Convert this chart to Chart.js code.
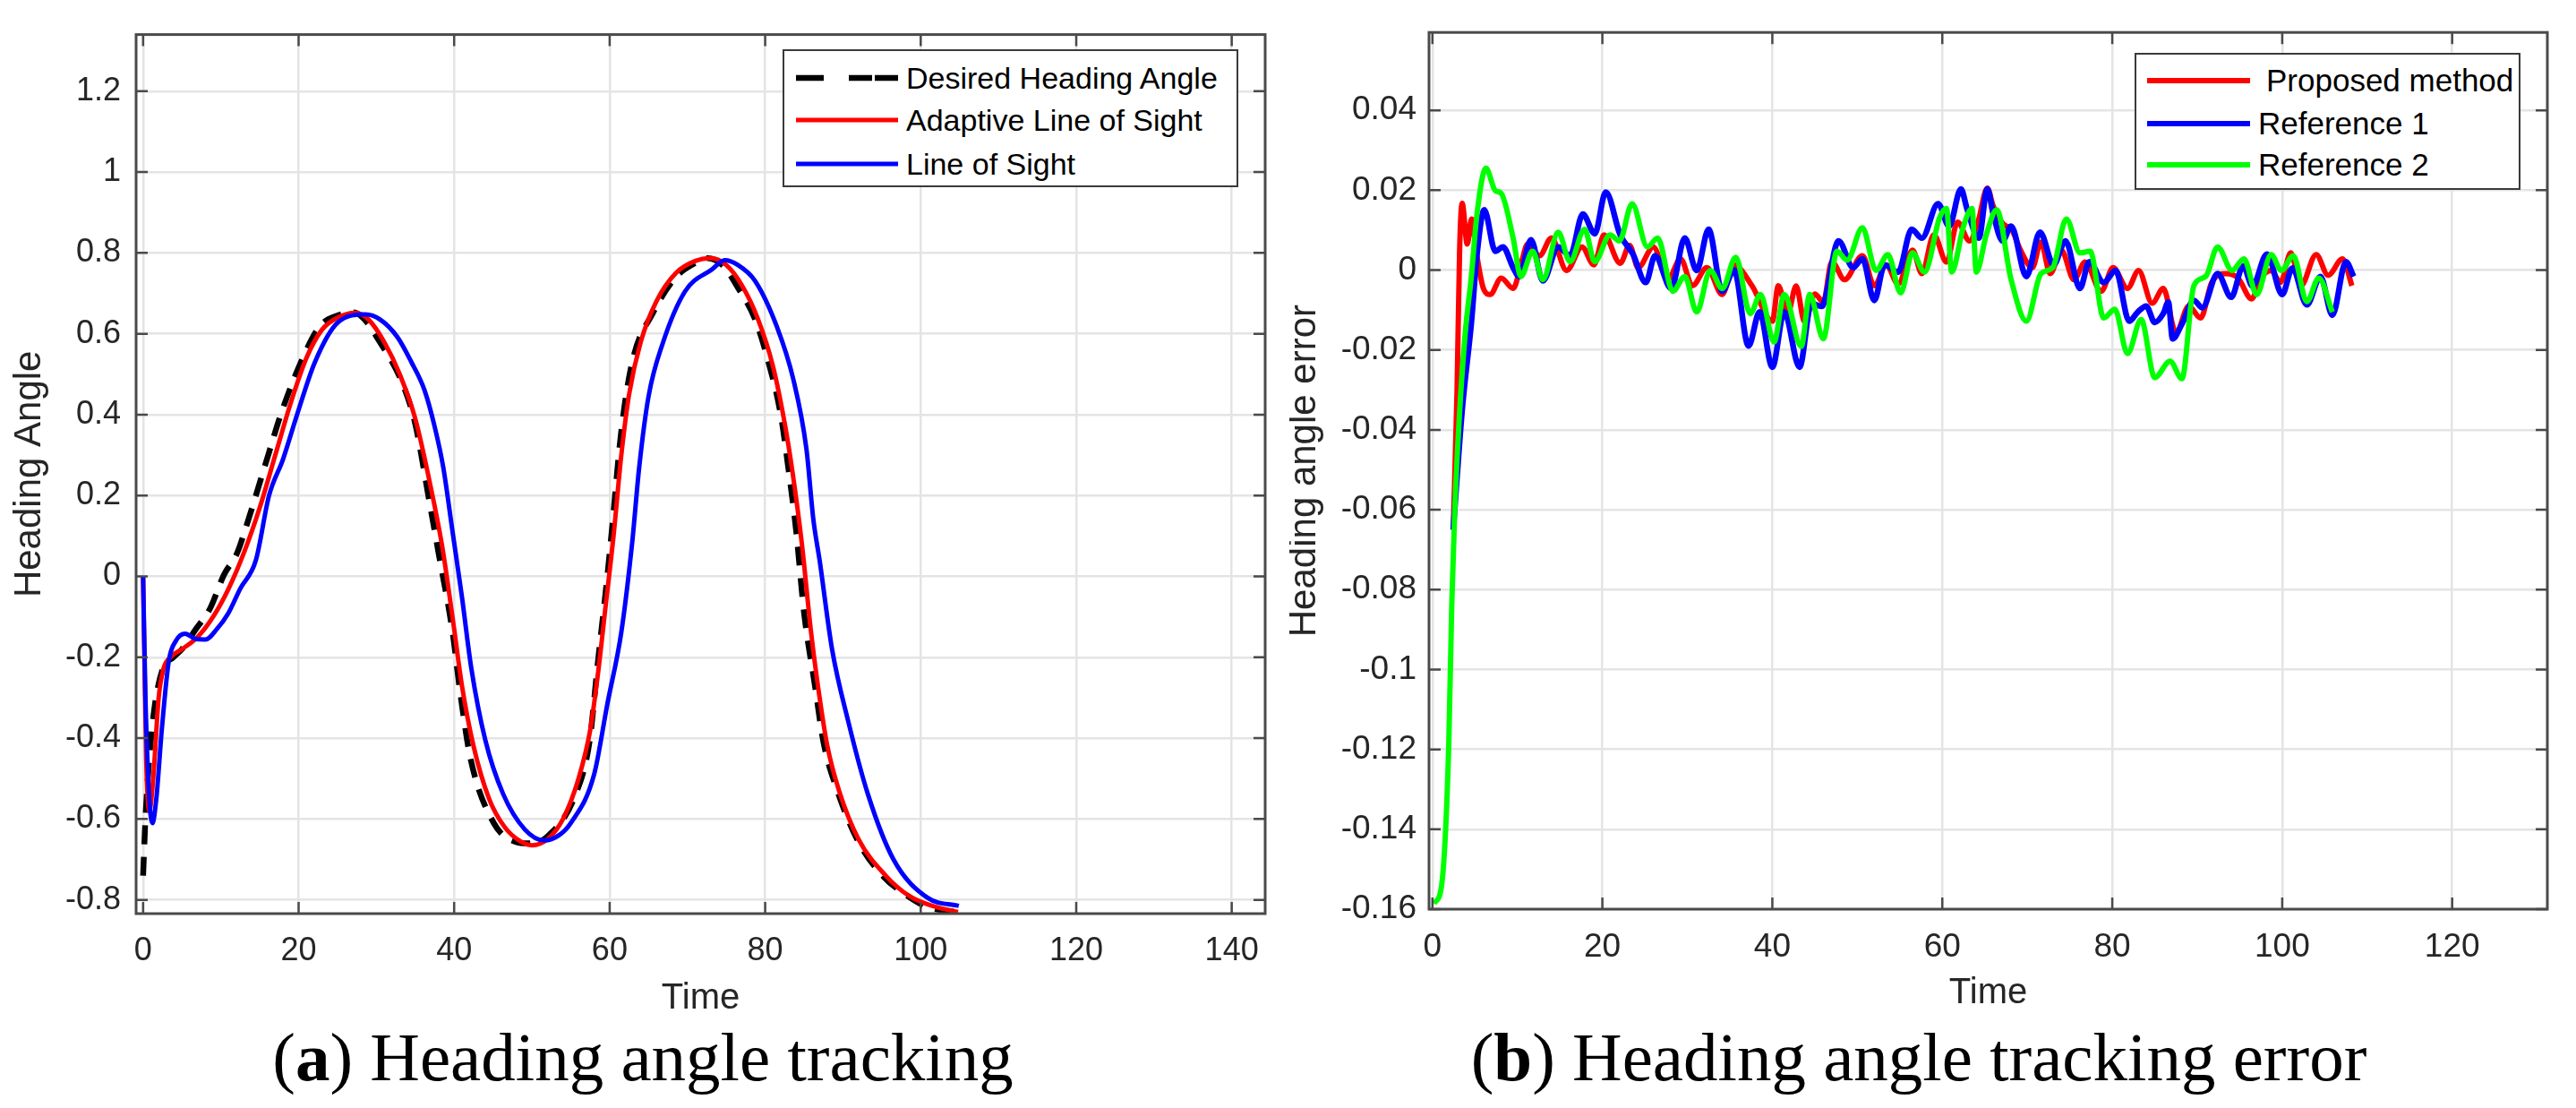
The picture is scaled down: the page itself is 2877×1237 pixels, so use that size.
<!DOCTYPE html>
<html>
<head>
<meta charset="utf-8">
<script src="https://cdn.jsdelivr.net/npm/chart.js@4.4.1/dist/chart.umd.min.js"></script>
<style>
  html, body { margin:0; padding:0; background:#fff; }
  body { width:2877px; height:1237px; position:relative; overflow:hidden; }
  canvas { position:absolute; top:0; }
  .legend { position:absolute; box-sizing:border-box; border:2px solid #3a3a3a; background:#fff; }
  .legend svg { position:absolute; left:0; top:0; }
  .legend span { position:absolute; font-family:"Liberation Sans", Arial, sans-serif; color:#000; line-height:1; white-space:nowrap; }
  .cap { position:absolute; top:1142px; width:1400px; text-align:center; font-family:"Liberation Serif", "Times New Roman", serif; font-size:77px; line-height:1; color:#000; white-space:nowrap; }
</style>
</head>
<body>
<canvas id="cA" width="1440" height="1150" style="left:0"></canvas>
<canvas id="cB" width="1437" height="1150" style="left:1440px"></canvas>

<div class="legend" style="left:874px; top:55px; width:509px; height:154px;">
  <svg width="509" height="154">
    <line x1="13" y1="30" x2="127" y2="30" stroke="#000" stroke-width="6.5" stroke-dasharray="31 28 26 3 26"/>
    <line x1="13" y1="77" x2="127" y2="77" stroke="#ff0000" stroke-width="5"/>
    <line x1="13" y1="126" x2="127" y2="126" stroke="#0000ff" stroke-width="5"/>
  </svg>
  <span style="left:136px; top:13px; font-size:34px;">Desired Heading Angle</span>
  <span style="left:136px; top:60px; font-size:34px;">Adaptive Line of Sight</span>
  <span style="left:136px; top:109px; font-size:34px;">Line of Sight</span>
</div>

<div class="legend" style="left:2384px; top:59px; width:431px; height:153px;">
  <svg width="431" height="153">
    <line x1="12" y1="29" x2="127" y2="29" stroke="#ff0000" stroke-width="6"/>
    <line x1="12" y1="77" x2="127" y2="77" stroke="#0000ff" stroke-width="6"/>
    <line x1="12" y1="123" x2="127" y2="123" stroke="#00ff00" stroke-width="6"/>
  </svg>
  <span style="left:145px; top:11px; font-size:35px;">Proposed method</span>
  <span style="left:136px; top:59px; font-size:35px;">Reference 1</span>
  <span style="left:136px; top:105px; font-size:35px;">Reference 2</span>
</div>

<div class="cap" style="left:18px;">(<b>a</b>) Heading angle tracking</div>
<div class="cap" style="left:1443px;">(<b>b</b>) Heading angle tracking error</div>

<script>
// ---------------- Chart (a) data ----------------
const leftXTicks = [0, 20, 40, 60, 80, 100, 120, 140];
const leftXTickLabels = ['0', '20', '40', '60', '80', '100', '120', '140'];
const leftYTicks = [-0.8, -0.6, -0.4, -0.2, 0, 0.2, 0.4, 0.6, 0.8, 1, 1.2];
const leftYTickLabels = ['-0.8', '-0.6', '-0.4', '-0.2', '0', '0.2', '0.4', '0.6', '0.8', '1', '1.2'];

const desiredT = [0, 0.3, 0.8, 1.5, 2.5, 3.9, 5, 6.8, 8.6, 10.4, 12.1, 13.3, 16.2, 17.7, 20.3, 22.7, 25, 27.1, 28.5, 30.3, 33.3, 35, 36.8, 38, 39.8, 40.8, 42.1, 45.1, 48, 49.5, 52, 55.6, 57.4, 58.5, 59.7, 60.3, 61.5, 62.9, 65.6, 68.5, 71, 72.6, 74.5, 76.5, 78.7, 80.4, 82, 83, 84, 85, 86.4, 87.5, 89.1, 91.9, 95.2, 98, 100.8, 104.5];
const desiredV = [-0.74, -0.6, -0.45, -0.32, -0.23, -0.2, -0.18, -0.13, -0.08, 0.004, 0.058, 0.126, 0.307, 0.40, 0.53, 0.618, 0.645, 0.653, 0.635, 0.584, 0.48, 0.377, 0.187, 0.058, -0.138, -0.29, -0.45, -0.61, -0.657, -0.66, -0.643, -0.54, -0.41, -0.21, 0.0, 0.117, 0.36, 0.53, 0.653, 0.74, 0.775, 0.787, 0.77, 0.714, 0.636, 0.532, 0.40, 0.265, 0.11, -0.09, -0.27, -0.41, -0.52, -0.653, -0.742, -0.786, -0.817, -0.83];

const adaptiveT = [0, 0.4, 0.8, 1.3, 2, 2.6, 3.5, 5, 7, 9, 11, 13, 15, 17, 19, 21, 23, 25, 27.3, 29, 31, 33, 35, 37, 38.5, 40, 41, 42.5, 44.5, 46.5, 48.5, 50, 52, 54, 56, 57.5, 58.5, 59.5, 60.5, 61.5, 62.5, 64, 66, 68.5, 71, 73, 75, 77, 79, 81, 82.5, 83.5, 84.7, 85.9, 87, 88, 89.5, 92, 95.5, 98.5, 101.5, 104.8];
const adaptiveV = [0, -0.45, -0.58, -0.5, -0.3, -0.23, -0.2, -0.18, -0.15, -0.1, -0.03, 0.06, 0.17, 0.30, 0.43, 0.54, 0.61, 0.64, 0.652, 0.635, 0.58, 0.50, 0.39, 0.22, 0.07, -0.13, -0.27, -0.42, -0.55, -0.62, -0.655, -0.665, -0.65, -0.6, -0.5, -0.38, -0.24, -0.07, 0.1, 0.3, 0.45, 0.58, 0.68, 0.75, 0.78, 0.787, 0.77, 0.72, 0.64, 0.52, 0.38, 0.26, 0.084, -0.138, -0.3, -0.42, -0.53, -0.65, -0.74, -0.79, -0.815, -0.83];

const losT = [0, 0.3, 0.8, 1.2, 1.7, 2.4, 3.3, 4.2, 5.4, 6.8, 8, 9.5, 10.9, 12.5, 14.5, 16.2, 18, 19.8, 22.1, 25, 28.6, 30.5, 32.7, 34.5, 36.2, 37.5, 38.6, 39.8, 41, 42.2, 44, 46.3, 49.1, 51.6, 53.5, 55, 58, 59.7, 61.5, 62.9, 63.8, 65, 66.8, 69.7, 73.2, 74.8, 76.5, 78.7, 81.5, 83.6, 85.3, 86.2, 87, 88.6, 90.7, 93.2, 96.5, 100.9, 104.9];
const losV = [0, -0.3, -0.55, -0.61, -0.55, -0.38, -0.21, -0.16, -0.142, -0.155, -0.156, -0.13, -0.093, -0.03, 0.04, 0.2, 0.29, 0.40, 0.53, 0.627, 0.648, 0.635, 0.592, 0.53, 0.46, 0.37, 0.27, 0.11, -0.05, -0.226, -0.404, -0.538, -0.626, -0.653, -0.64, -0.61, -0.49, -0.316, -0.138, 0.084, 0.27, 0.445, 0.575, 0.705, 0.76, 0.782, 0.77, 0.731, 0.618, 0.489, 0.316, 0.14, 0.04, -0.18, -0.36, -0.538, -0.70, -0.795, -0.815];

// ---------------- Chart (b) data ----------------
const rightXTicks = [0, 20, 40, 60, 80, 100, 120];
const rightXTickLabels = ['0', '20', '40', '60', '80', '100', '120'];
const rightYTicks = [-0.16, -0.14, -0.12, -0.1, -0.08, -0.06, -0.04, -0.02, 0, 0.02, 0.04];
const rightYTickLabels = ['-0.16', '-0.14', '-0.12', '-0.1', '-0.08', '-0.06', '-0.04', '-0.02', '0', '0.02', '0.04'];

const proposedT = [2.45, 2.9, 3.2, 3.5, 4.1, 4.6, 5.2, 6.0, 6.8, 8.1, 9.5, 10.5, 11.2, 12.6, 14.0, 15.8, 17.6, 19.0, 20.2, 22.1, 23.2, 24.2, 26.0, 27.7, 29.2, 30.6, 32.3, 34.1, 35.5, 37.6, 40.0, 40.7, 41.8, 42.8, 43.8, 45, 46, 47, 48.5, 50.6, 52, 53.4, 54.8, 56.5, 57.6, 59, 60.5, 61.8, 63.2, 64.2, 65.3, 66.0, 67.1, 68.2, 69.2, 70.6, 71.6, 72.7, 74, 75.5, 76.8, 78.7, 80.1, 81.8, 83.1, 84.7, 86, 87.5, 89, 90.4, 91.7, 93.4, 94.8, 96.4, 97.5, 98.7, 99.8, 101, 102.2, 104, 105.4, 107.1, 108.2];
const proposedV = [-0.065, -0.03, 0.005, 0.0167, 0.0065, 0.0128, 0.004, -0.0046, -0.0061, -0.002, -0.0046, 0.0021, 0.0065, 0.0036, 0.008, -0.0001, 0.0058, 0.0013, 0.0088, 0.0017, 0.0062, 0.0006, 0.0058, -0.0024, 0.0028, -0.0039, 0.0006, -0.0061, 0.0013, -0.0039, -0.0128, -0.0039, -0.011, -0.004, -0.013, -0.006, -0.008, 0.0021, -0.0024, 0.0036, -0.0039, 0.0013, -0.0035, 0.005, -0.0009, 0.0088, 0.002, 0.012, 0.0073, 0.012, 0.0205, 0.016, 0.0117, 0.01, 0.005, 0.0006, 0.007, -0.0009, 0.005, -0.0024, 0.002, -0.0053, 0.0006, -0.0046, -0.0001, -0.0083, -0.0046, -0.0157, -0.009, -0.012, -0.0031, -0.0009, -0.002, -0.0072, -0.002, -0.0001, -0.0031, 0.0043, -0.0039, 0.0039, -0.0013, 0.0028, -0.0039];

const ref1T = [2.45, 3.5, 4.56, 5.3, 6.1, 7.4, 8.3, 9.5, 10.2, 11.6, 13.0, 14.8, 16.2, 17.7, 19.1, 20.4, 22.1, 23.6, 25.1, 26.2, 28.1, 29.7, 31.1, 32.5, 34.1, 35.5, 37.2, 38.5, 40.0, 41.4, 43.2, 44.6, 45.8, 47.8, 49.5, 50.6, 52, 53.2, 54.8, 56.4, 57.6, 59.5, 60.8, 62.2, 62.9, 64.3, 65.3, 66, 67.1, 68.1, 69.9, 71.5, 73.1, 74.5, 76.2, 77.3, 79, 80.4, 82, 83, 84, 85, 86, 86.6, 87.1, 88.2, 89.6, 90.6, 92.4, 94, 95.4, 96.5, 98.2, 100, 101.2, 102.9, 104.5, 105.9, 107.5, 108.4];
const ref1V = [-0.065, -0.035, -0.0136, 0.005, 0.0151, 0.0047, 0.0058, 0.0006, -0.0016, 0.0076, -0.0027, 0.0058, 0.0036, 0.014, 0.0091, 0.0195, 0.0088, 0.004, -0.0031, 0.0036, -0.0046, 0.008, -0.0001, 0.0102, -0.0053, 0, -0.019, -0.0105, -0.0243, -0.0105, -0.0243, -0.0083, -0.0091, 0.0073, 0.0006, 0.0028, -0.0076, 0.0013, -0.0005, 0.0102, 0.008, 0.0166, 0.011, 0.0203, 0.0154, 0.008, 0.0203, 0.014, 0.0073, 0.011, -0.0016, 0.0095, 0.0013, 0.0073, -0.0046, 0.0021, -0.0031, -0.0001, -0.0128, -0.0105, -0.009, -0.0131, -0.0109, -0.008, -0.0172, -0.0135, -0.0076, -0.0094, -0.0009, -0.0068, 0.001, -0.004, 0.004, -0.0061, 0.0005, -0.0087, -0.0016, -0.0113, 0.0021, -0.0016];

const ref2T = [0.18, 1.05, 1.58, 1.93, 2.28, 2.63, 3.16, 3.86, 4.56, 5.27, 6.3, 7.4, 8.1, 9.5, 10.4, 11.8, 13, 14.8, 16.2, 17.9, 19.1, 20.9, 22, 23.5, 25.3, 26.5, 28.3, 29.7, 31.1, 32.7, 34.1, 35.7, 37.4, 38.6, 40.2, 41.4, 43.4, 44.4, 46, 47.6, 48.8, 50.6, 52.2, 53.6, 55.1, 56.5, 57.9, 59.7, 60.5, 61.1, 62.5, 63.5, 64, 65.2, 66.4, 68.1, 69.9, 71.6, 73, 74.6, 76.2, 77.4, 79, 80.3, 81.8, 83.4, 85, 86.8, 88.2, 89.6, 91, 92.4, 94.1, 95.5, 97, 98.7, 99.9, 101.3, 102.9, 104.3, 105.9];
const ref2V = [-0.1586, -0.1545, -0.139, -0.118, -0.0835, -0.06, -0.0369, -0.0158, -0.002, 0.0145, 0.0255, 0.0199, 0.0192, 0.008, -0.0016, 0.0047, -0.0024, 0.0095, 0.0021, 0.0102, 0.0021, 0.0088, 0.0073, 0.0166, 0.0058, 0.008, -0.0053, -0.0016, -0.0105, -0.0001, -0.0046, 0.0032, -0.0109, -0.0061, -0.018, -0.0061, -0.0191, -0.0061, -0.0172, 0.0047, 0.0025, 0.0106, -0.0001, 0.0039, -0.0057, 0.0043, -0.0005, 0.0132, 0.0154, -0.0005, 0.011, 0.0154, -0.0005, 0.009, 0.0151, -0.0024, -0.0128, -0.0009, 0.0006, 0.0128, 0.0043, 0.0047, -0.012, -0.0098, -0.0209, -0.0124, -0.0269, -0.0228, -0.0272, -0.0039, -0.0016, 0.0058, -0.0001, 0.0028, -0.0061, 0.0039, -0.0001, 0.0036, -0.0079, -0.002, -0.0105];

// ---------------- helpers ----------------
const pts = (ts, vs) => ts.map((t, i) => ({ x: t, y: vs[i] }));
const FONT = '"Liberation Sans", Arial, sans-serif';
const TXT = '#262626';

const boxPlugin = {
  id: 'matlabBox',
  afterDatasetsDraw(chart) {
    const { ctx, chartArea: a, scales: { x, y } } = chart;
    const L = 13;
    ctx.save();
    ctx.strokeStyle = '#4a4a4a';
    ctx.lineWidth = 2.5;
    ctx.beginPath();
    x.ticks.forEach(t => {
      const px = x.getPixelForValue(t.value);
      ctx.moveTo(px, a.bottom); ctx.lineTo(px, a.bottom - L);
      ctx.moveTo(px, a.top); ctx.lineTo(px, a.top + L);
    });
    y.ticks.forEach(t => {
      const py = y.getPixelForValue(t.value);
      ctx.moveTo(a.left, py); ctx.lineTo(a.left + L, py);
      ctx.moveTo(a.right, py); ctx.lineTo(a.right - L, py);
    });
    ctx.stroke();
    ctx.lineWidth = 3;
    ctx.strokeRect(a.left, a.top, a.right - a.left, a.bottom - a.top);
    ctx.restore();
  }
};

function makeChart(id, cfg) {
  const line = (label, ts, vs, color, w, order, dash) => ({
    label, data: pts(ts, vs), borderColor: color, backgroundColor: color,
    borderWidth: w, pointRadius: 0, fill: false, order,
    cubicInterpolationMode: 'monotone', borderDash: dash || [], borderCapStyle: 'butt'
  });
  return new Chart(document.getElementById(id), {
    type: 'line',
    data: { datasets: cfg.series.map(s => line(...s)) },
    options: {
      responsive: false, animation: false, devicePixelRatio: 1,
      layout: { padding: cfg.pad },
      plugins: { legend: { display: false }, tooltip: { enabled: false } },
      scales: {
        x: {
          type: 'linear', min: cfg.xMin, max: cfg.xMax,
          afterFit: s => { s.height = cfg.xH; },
          afterBuildTicks: s => { s.ticks = cfg.xTicks.map(v => ({ value: v })); },
          ticks: { callback: (v, i) => cfg.xLabels[i], font: { family: FONT, size: cfg.tickSize }, color: TXT, padding: cfg.xPad, maxRotation: 0, autoSkip: false },
          grid: { color: '#e4e4e4', lineWidth: 2.5, drawTicks: false },
          border: { display: false },
          title: { display: true, text: 'Time', font: { family: FONT, size: 40 }, color: TXT, padding: { top: 0, bottom: cfg.xTitlePad } }
        },
        y: {
          type: 'linear', min: cfg.yMin, max: cfg.yMax,
          afterFit: s => { s.width = cfg.yW; },
          afterBuildTicks: s => { s.ticks = cfg.yTicks.map(v => ({ value: v })); },
          ticks: { callback: (v, i) => cfg.yLabels[i], font: { family: FONT, size: cfg.tickSize }, color: TXT, padding: cfg.yPad, autoSkip: false },
          grid: { color: '#e4e4e4', lineWidth: 2.5, drawTicks: false },
          border: { display: false },
          title: { display: true, text: cfg.yTitle, font: { family: FONT, size: 42, lineHeight: cfg.yTitleLH }, color: TXT, padding: { top: cfg.yTitlePad, bottom: 0 } }
        }
      }
    },
    plugins: [boxPlugin]
  });
}

makeChart('cA', {
  series: [
    ['Desired Heading Angle', desiredT, desiredV, '#000000', 6.5, 3, [21, 14]],
    ['Adaptive Line of Sight', adaptiveT, adaptiveV, '#ff0000', 5, 2],
    ['Line of Sight', losT, losV, '#0000ff', 5, 1]
  ],
  pad: { top: 26, right: 27, left: 0, bottom: 0 },
  xMin: -0.9, xMax: 144.3, yMin: -0.834, yMax: 1.34,
  xTicks: leftXTicks, xLabels: leftXTickLabels, yTicks: leftYTicks, yLabels: leftYTickLabels,
  xH: 130, yW: 152, tickSize: 36, xPad: 20, yPad: 17, xTitlePad: 11,
  yTitle: 'Heading Angle', yTitlePad: 8, yTitleLH: 1.2
});

makeChart('cB', {
  series: [
    ['Proposed method', proposedT, proposedV, '#ff0000', 6, 3],
    ['Reference 1', ref1T, ref1V, '#0000ff', 6.5, 2],
    ['Reference 2', ref2T, ref2V, '#00ff00', 6, 1]
  ],
  pad: { top: 29, right: 32, left: 0, bottom: 0 },
  xMin: -0.4, xMax: 131.2, yMin: -0.16, yMax: 0.0595,
  xTicks: rightXTicks, xLabels: rightXTickLabels, yTicks: rightYTicks, yLabels: rightYTickLabels,
  xH: 135, yW: 156, tickSize: 37, xPad: 21, yPad: 14, xTitlePad: 17,
  yTitle: 'Heading angle error', yTitlePad: 1, yTitleLH: 0.8
});
</script>
</body>
</html>
